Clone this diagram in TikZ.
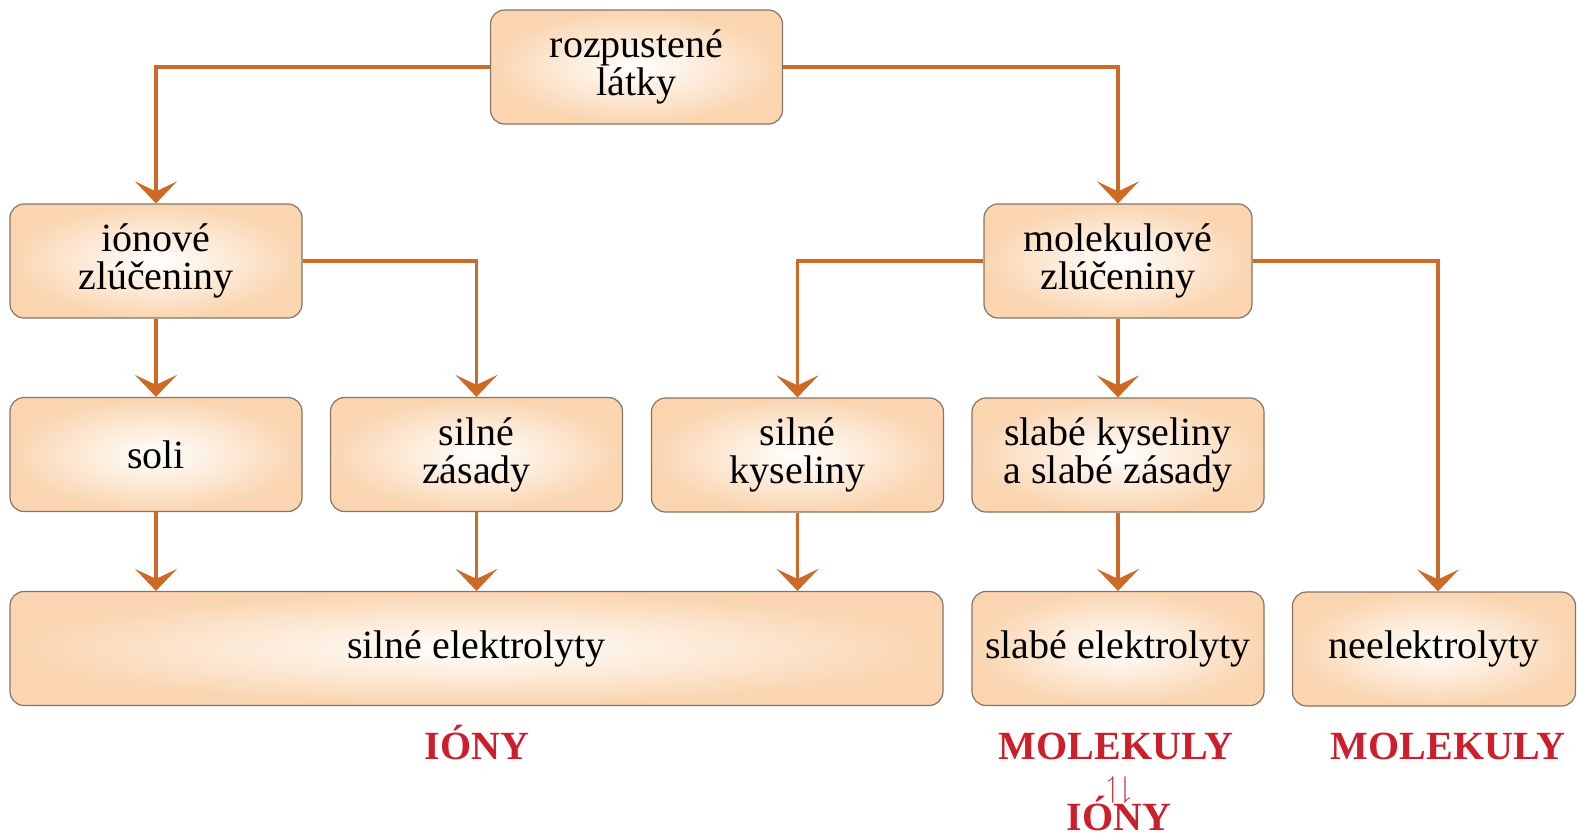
\documentclass[tikz,border=0pt]{standalone}
\usepackage{amssymb}
\usepackage{fontspec}
\setmainfont{Liberation Serif}
\usetikzlibrary{arrows.meta,positioning}
\definecolor{Rust}{HTML}{CC6A26}
\definecolor{Peach}{HTML}{FAD5B0}
\definecolor{Edge}{HTML}{857565}
\definecolor{Crimson}{HTML}{CC1F2B}

\begin{document}
\begin{tikzpicture}[x=0.5pt, y=-0.5pt,
    box/.style={draw=Edge, line width=0.6pt, rounded corners=7pt,
                shading=radial, inner color=white, outer color=Peach,
                minimum height=57pt, minimum width=146pt, align=center,
                inner sep=2pt, font=\fontsize{20}{19}\selectfont},
    red/.style={font=\fontsize{20}{19}\selectfont\bfseries, color=Crimson,
                anchor=base, inner sep=0pt},
    ar/.style={-{Stealth[length=11pt, width=21pt, inset=5pt]},
               line width=1.7pt, color=Rust}]
    \useasboundingbox (0,0) rectangle (1577,837);
    % top level
    \node[box] (rozp) at (636.5,67) {rozpustené\\látky};
    \node[box] (ion)  at (156,261)  {iónové\\zlúčeniny};
    \node[box, minimum width=134pt] (mol) at (1118,261) {molekulové\\zlúčeniny};
    % third row
    \node[box] (soli) at (156,454.5)   {soli};
    \node[box] (zas)  at (476.5,454.5) {silné\\zásady};
    \node[box] (kys)  at (797.5,455)   {silné\\kyseliny};
    \node[box] (slab) at (1118,455)    {slabé kyseliny\\a slabé zásady};
    % electrolytes
    \node[box, minimum width=466.5pt] (sel) at (476.5,648.5) {silné elektrolyty};
    \node[box] (slel) at (1118,648.5) {slabé elektrolyty};
    \node[box, minimum width=141.5pt] (neel) at (1434,649) {neelektrolyty};
    % particles
    \node[red] (ionyA) at (477,759)  {IÓNY};
    \node[red] (molA)  at (1116,759) {MOLEKULY};
    \node[font=\fontsize{15}{15}\selectfont, color=Crimson, inner sep=0pt]
      (eq) at (1119,790) {$\upharpoonleft\downharpoonright$};
    \node[red] (ionyB) at (1119,830) {IÓNY};
    \node[red] (molB)  at (1448,759) {MOLEKULY};
    % connectors
    \draw[ar] (rozp.west) -| (ion.north);
    \draw[ar] (rozp.east) -| (mol.north);
    \draw[ar] (ion) -- (soli);
    \draw[ar] (ion.east) -| (zas.north);
    \draw[ar] (mol.west) -| (kys.north);
    \draw[ar] (mol) -- (slab);
    \draw[ar] (mol.east) -| ([xshift=2pt]neel.north);
    \draw[ar] (soli.south) -- (soli.south |- sel.north);
    \draw[ar] (zas.south) -- (zas.south |- sel.north);
    \draw[ar] (kys.south) -- (kys.south |- sel.north);
    \draw[ar] (slab) -- (slel);
  \end{tikzpicture}
\end{document}
